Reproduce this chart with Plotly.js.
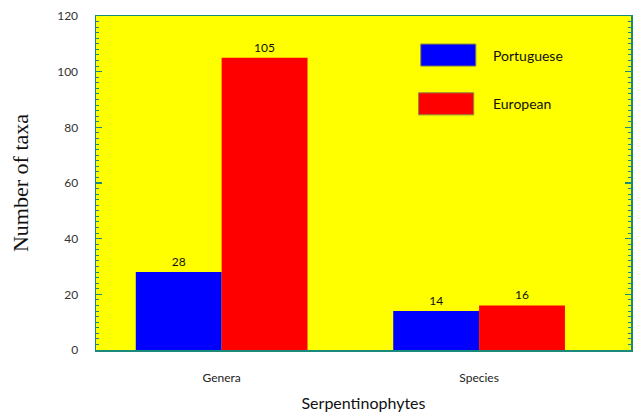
<!DOCTYPE html>
<html>
<head>
<script src="https://cdn.plot.ly/plotly-3.0.1.min.js"></script>
<style>html,body{margin:0;padding:0;background:#fff}#chart{width:633px;height:415px}</style>
</head>
<body>
<div id="chart"></div>
<script>
const categories = ["Genera", "Species"];
const seriesNames = ["Portuguese", "European"];
const portuguese = [28, 14];
const european = [105, 16];
const colors = ["#0000ff", "#ff0000"];

const font = "Lato, 'Open Sans', sans-serif";
const axisColor = "#1a8a7a";

const traces = [portuguese, european].map((vals, i) => ({
  type: "bar",
  name: seriesNames[i],
  x: categories,
  y: vals,
  marker: {color: colors[i], line: {width: 0}},
  text: vals.map(String),
  textposition: "outside",
  cliponaxis: false,
  textfont: {family: font, size: 12, color: "#111"},
  showlegend: false
}));

const shapes = [];
const annotations = [];
const legendY = [0.883, 0.737];
seriesNames.forEach((n, i) => {
  shapes.push({type: "rect", xref: "paper", yref: "paper",
    x0: 0.607 - i * 0.004, x1: 0.71 - i * 0.004,
    y0: legendY[i] - 0.033, y1: legendY[i] + 0.033,
    fillcolor: colors[i], line: {width: 1, color: "#8a8a40"}});
  annotations.push({xref: "paper", yref: "paper", x: 0.738, y: legendY[i],
    xanchor: "left", yanchor: "middle", text: n, showarrow: false,
    font: {family: font, size: 14, color: "#111"}});
});

const layout = {
  width: 633, height: 415,
  margin: {l: 96, r: 2, t: 16, b: 65},
  paper_bgcolor: "#ffffff",
  plot_bgcolor: "#ffff00",
  barmode: "group",
  bargap: 0.333,
  bargroupgap: 0,
  showlegend: false,
  xaxis: {
    type: "category",
    range: [-0.488, 1.59],
    showline: true, linecolor: axisColor, linewidth: 1.5, mirror: true,
    ticks: "", showgrid: false, zeroline: false,
    tickfont: {family: font, size: 12, color: "#222"},
    ticklabelstandoff: 16,
    title: {text: "Serpentinophytes", font: {family: font, size: 16, color: "#111"}, standoff: 14}
  },
  yaxis: {
    range: [0, 120],
    dtick: 20,
    showline: true, linecolor: axisColor, linewidth: 1.5, mirror: "allticks",
    ticks: "inside", ticklen: 6, tickcolor: axisColor, tickwidth: 1.5,
    minor: {dtick: 2, ticks: "inside", ticklen: 3, tickcolor: axisColor, tickwidth: 1},
    showgrid: false, zeroline: false,
    tickfont: {family: font, size: 12, color: "#333"},
    ticklabelstandoff: 14,
    title: {text: "Number of taxa", font: {family: "'Liberation Serif', 'DejaVu Serif', serif", size: 22, color: "#111"}, standoff: 22}
  },
  shapes: shapes,
  annotations: annotations
};

Plotly.newPlot("chart", traces, layout, {displayModeBar: false, staticPlot: true});
</script>
</body>
</html>
